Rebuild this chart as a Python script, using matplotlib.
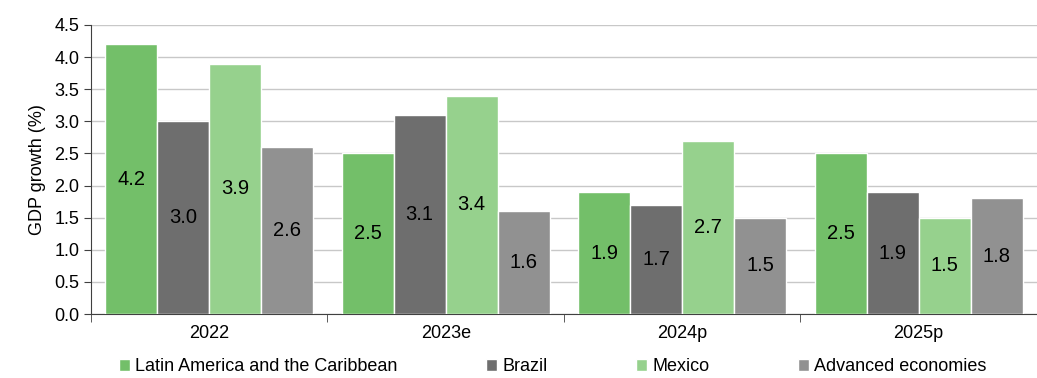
import numpy as np
import matplotlib.pyplot as plt
from matplotlib import font_manager

years = ['2022', '2023e', '2024p', '2025p']
series = ['Latin America and the Caribbean', 'Brazil', 'Mexico', 'Advanced economies']
latam = [4.2, 2.5, 1.9, 2.5]
brazil = [3.0, 3.1, 1.7, 1.9]
mexico = [3.9, 3.4, 2.7, 1.5]
advanced = [2.6, 1.6, 1.5, 1.8]
colors = ['#73bf69', '#6e6e6e', '#96d18d', '#919191']

names = {f.name for f in font_manager.fontManager.ttflist}
fam = 'Liberation Sans Narrow' if 'Liberation Sans Narrow' in names else 'Liberation Sans'
plt.rcParams['font.family'] = [fam, 'DejaVu Sans']
plt.rcParams['font.size'] = 13

fig = plt.figure(figsize=(10.37, 3.78), dpi=100)
ax = fig.add_axes([0.0878, 0.169, 0.912, 0.765])

x = np.arange(len(years))
w = 0.22
data = [latam, brazil, mexico, advanced]
for i, (vals, name, c) in enumerate(zip(data, series, colors)):
    pos = x + (i - 1.5) * w
    ax.bar(pos, vals, w, color=c, edgecolor='white', linewidth=1, label=name, zorder=3)
    for xp, v in zip(pos, vals):
        ax.text(xp, v / 2, f'{v:.1f}', ha='center', va='center', fontsize=14.5, zorder=4)

ax.set_xlim(-0.5, len(years) - 0.5)
ax.set_ylim(0, 4.5)
ax.set_yticks(np.arange(0, 4.51, 0.5))
ax.set_yticklabels([f'{t:.1f}' for t in np.arange(0, 4.51, 0.5)])
ax.set_ylabel('GDP growth (%)', labelpad=6)
ax.yaxis.grid(True, color='#c8c8c8', linewidth=1, zorder=0)

ax.set_xticks(x)
ax.set_xticklabels(years)
ax.tick_params(axis='x', length=0, pad=8)
ax.set_xticks(np.arange(-0.5, len(years) + 0.5, 1), minor=True)
ax.tick_params(axis='x', which='minor', length=6, color='#404040')
ax.tick_params(axis='y', length=5, color='#404040')

for s in ['top', 'right']:
    ax.spines[s].set_visible(False)
for s in ['left', 'bottom']:
    ax.spines[s].set_color('#404040')

fig.legend(loc='center', ncol=4, frameon=False, bbox_to_anchor=(0.533, 0.03),
           handlelength=0.6, handleheight=0.6, handletextpad=0.3, columnspacing=4.9,
           fontsize=13)

fig.savefig('out.png', dpi=100)
